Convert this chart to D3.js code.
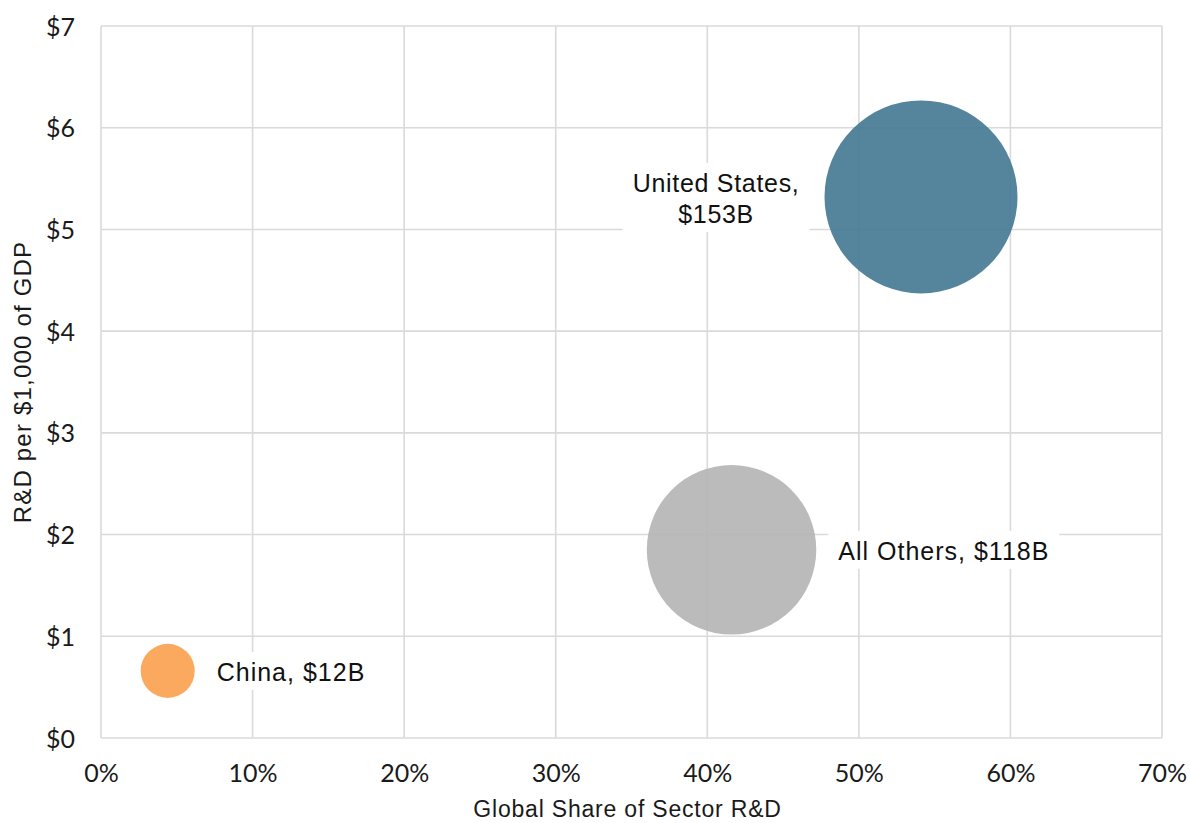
<!DOCTYPE html>
<html>
<head>
<meta charset="utf-8">
<script src="https://cdn.jsdelivr.net/npm/d3@7"></script>
<style>
  html, body { margin: 0; padding: 0; background: #fff; }
  svg { display: block; }
</style>
</head>
<body>
<svg id="chart" width="1190" height="823"></svg>
<script>
// Sector R&D by economy
const countries = ["United States", "All Others", "China"];
const globalShare = [0.541, 0.416, 0.044];   // share of global sector R&D
const rdPerGdp = [5.32, 1.85, 0.66];          // R&D dollars per $1,000 of GDP
const spendBillions = [153, 118, 12];         // sector R&D spend, $B
const bubbleColors = ["#437792", "#b4b4b4", "#fba04d"];
const labelSide = ["left", "right", "right"];

const xTicks = [0, 0.1, 0.2, 0.3, 0.4, 0.5, 0.6, 0.7];
const yTicks = [0, 1, 2, 3, 4, 5, 6, 7];

const svg = d3.select("#chart");
const plot = { left: 101, right: 1162, top: 26, bottom: 738 };

const x = d3.scaleLinear().domain([0, 0.7]).range([plot.left, plot.right]);
const y = d3.scaleLinear().domain([0, 7]).range([plot.bottom, plot.top]);
const r = d3.scaleSqrt().domain([0, 153]).range([0, 96.5]);

const gridColor = "#dadada";
const tickFont = "Lato, 'Liberation Sans', sans-serif";
const labelFont = "'Liberation Sans', Arial, sans-serif";

// gridlines (the outer ones double as the frame)
svg.append("g")
  .selectAll("line")
  .data(xTicks)
  .join("line")
  .attr("x1", d => x(d)).attr("x2", d => x(d))
  .attr("y1", plot.top).attr("y2", plot.bottom)
  .attr("stroke", gridColor).attr("stroke-width", 1.6);

svg.append("g")
  .selectAll("line")
  .data(yTicks)
  .join("line")
  .attr("x1", plot.left).attr("x2", plot.right)
  .attr("y1", d => y(d)).attr("y2", d => y(d))
  .attr("stroke", gridColor).attr("stroke-width", 1.6);

// axes: tick labels only
const xAxis = d3.axisBottom(x).tickValues(xTicks).tickFormat(d3.format(".0%")).tickSize(0).tickPadding(0);
const gx = svg.append("g").attr("transform", `translate(0,${plot.bottom})`).call(xAxis);
gx.select(".domain").remove();
gx.selectAll("text")
  .attr("dy", null).attr("y", 44)
  .attr("font-family", tickFont).attr("font-size", 25).attr("fill", "#1a1a1a");

const yAxis = d3.axisLeft(y).tickValues(yTicks).tickFormat(d => "$" + d).tickSize(0).tickPadding(0);
const gy = svg.append("g").attr("transform", `translate(${plot.left},0)`).call(yAxis);
gy.select(".domain").remove();
gy.selectAll("text")
  .attr("x", -26).attr("dy", "0.36em")
  .attr("font-family", tickFont).attr("font-size", 25).attr("fill", "#1a1a1a");

// axis titles
svg.append("text")
  .attr("x", (plot.left + plot.right) / 2 - 4).attr("y", 817)
  .attr("text-anchor", "middle")
  .attr("font-family", labelFont).attr("font-size", 23).attr("letter-spacing", 0.8)
  .attr("fill", "#1a1a1a")
  .text("Global Share of Sector R&D");

svg.append("text")
  .attr("transform", `translate(31,${(plot.top + plot.bottom) / 2}) rotate(-90)`)
  .attr("text-anchor", "middle")
  .attr("font-family", labelFont).attr("font-size", 24).attr("letter-spacing", 1.2)
  .attr("fill", "#1a1a1a")
  .text("R&D per $1,000 of GDP");

// bubbles
const data = countries.map((c, i) => ({
  name: c, share: globalShare[i], value: rdPerGdp[i], spend: spendBillions[i],
  color: bubbleColors[i], side: labelSide[i]
}));

svg.append("g")
  .selectAll("circle")
  .data(data)
  .join("circle")
  .attr("cx", d => x(d.share))
  .attr("cy", d => y(d.value))
  .attr("r", d => r(d.spend))
  .attr("fill", d => d.color)
  .attr("fill-opacity", 0.9);

// bubble labels on white boxes
const labels = svg.append("g");
data.forEach(d => {
  const g = labels.append("g");
  const cx = x(d.share), cy = y(d.value), rad = r(d.spend);
  const t = g.append("text")
    .attr("font-family", labelFont).attr("font-size", 25).attr("letter-spacing", 1)
    .attr("fill", "#111");
  if (d.side === "left") {
    const lines = [d.name + ",", "$" + d.spend + "B"];
    const tx = cx - rad - 25;
    t.attr("text-anchor", "middle").attr("letter-spacing", 0.7);
    // width of widest line decides the centre
    t.selectAll("tspan").data(lines).join("tspan")
      .attr("x", 0).attr("y", (l, i) => cy - 5 + i * 31)
      .text(l => l);
    const w = t.node().getBBox().width;
    t.selectAll("tspan").attr("x", tx - w / 2);
  } else {
    t.attr("x", cx + rad + 22).attr("y", cy + 10)
      .text(d.name + ", $" + d.spend + "B");
  }
  const b = t.node().getBBox();
  g.insert("rect", "text")
    .attr("x", b.x - 10).attr("y", b.y - 6)
    .attr("width", b.width + 20).attr("height", b.height + 10)
    .attr("fill", "#fff");
});
</script>
</body>
</html>
